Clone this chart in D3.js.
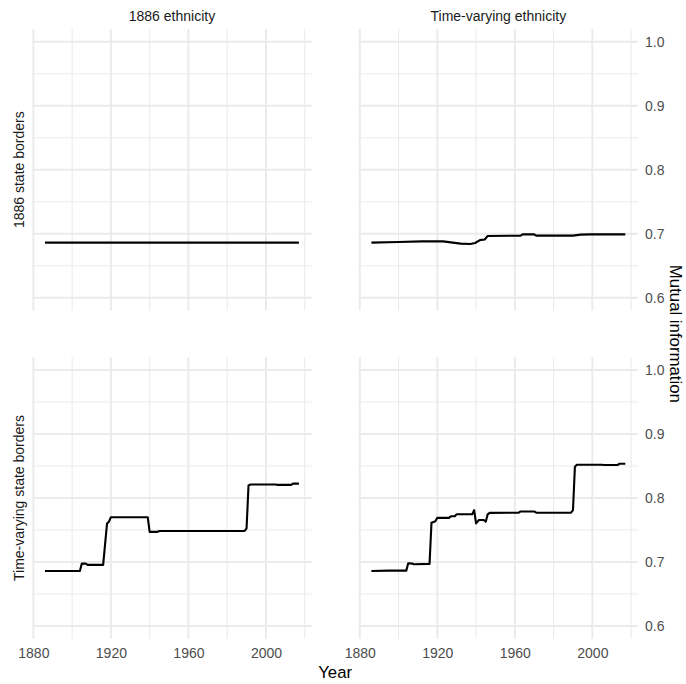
<!DOCTYPE html>
<html>
<head>
<meta charset="utf-8">
<script src="https://cdn.jsdelivr.net/npm/d3@7"></script>
<style>
  body { margin: 0; background: #fff; }
  svg { display: block; font-family: "Liberation Sans", Arial, Helvetica, sans-serif; }
</style>
</head>
<body>
<svg id="chart" width="686" height="684"></svg>
<script>
// ---- data ----
const colLabels = ["1886 ethnicity", "Time-varying ethnicity"];
const rowLabels = ["1886 state borders", "Time-varying state borders"];
const xTicks = [1880, 1920, 1960, 2000];
const xMinor = [1900, 1940, 1980, 2020];
const yTicks = [0.6, 0.7, 0.8, 0.9, 1.0];
const yMinor = [0.65, 0.75, 0.85, 0.95];
const xTitle = "Year";
const yTitle = "Mutual information";

// panel: 1886 borders x 1886 ethnicity
const yearsTL = [1886, 2017];
const valuesTL = [0.686, 0.686];

// panel: 1886 borders x time-varying ethnicity
const yearsTR = [1886, 1900, 1912, 1923, 1927, 1932, 1937, 1939.5, 1942, 1944.5, 1946, 1963, 1964, 1970, 1971, 1990, 1994, 1999, 2017];
const valuesTR = [0.686, 0.687, 0.688, 0.688, 0.6865, 0.6845, 0.684, 0.6855, 0.690, 0.691, 0.6965, 0.697, 0.699, 0.699, 0.697, 0.697, 0.6985, 0.699, 0.699];

// panel: time-varying borders x 1886 ethnicity
const yearsBL = [1886, 1904, 1905, 1907, 1908, 1916, 1918, 1919, 1920, 1939, 1940, 1944, 1945, 1989, 1990, 1991, 1992, 2005, 2006, 2013, 2014, 2017];
const valuesBL = [0.686, 0.686, 0.6975, 0.6975, 0.6955, 0.6955, 0.760, 0.763, 0.770, 0.770, 0.747, 0.747, 0.7485, 0.7485, 0.7525, 0.8195, 0.821, 0.821, 0.8205, 0.8205, 0.8225, 0.8225];

// panel: time-varying borders x time-varying ethnicity
const yearsBR = [1886, 1895, 1904, 1905, 1907, 1908, 1916, 1917, 1919, 1920, 1926, 1927, 1929, 1930, 1938, 1939, 1940, 1941.5, 1944, 1945, 1946, 1947, 1962, 1963, 1970, 1971, 1989, 1990, 1991, 1992, 2005, 2006, 2013, 2014, 2017];
const valuesBR = [0.686, 0.6865, 0.6865, 0.698, 0.6975, 0.6965, 0.697, 0.7615, 0.7635, 0.769, 0.769, 0.7714, 0.7715, 0.7745, 0.7745, 0.781, 0.7604, 0.7656, 0.7656, 0.763, 0.7745, 0.7768, 0.777, 0.779, 0.779, 0.777, 0.777, 0.781, 0.849, 0.852, 0.852, 0.8515, 0.8515, 0.8536, 0.8536];

const panels = [
  {row: 0, col: 0, years: yearsTL, values: valuesTL},
  {row: 0, col: 1, years: yearsTR, values: valuesTR},
  {row: 1, col: 0, years: yearsBL, values: valuesBL},
  {row: 1, col: 1, years: yearsBR, values: valuesBR}
];

// ---- layout ----
const colX = [32.3, 358.7];
const panelW = 279.3;
const rowY = [28.9, 357.2];
const panelH = 281.6;

const svg = d3.select("#chart");

const xDomain = [1886 - 0.05 * 131, 2017 + 0.05 * 131];
const yDomain = [0.58, 1.02];

const x = d3.scaleLinear().domain(xDomain).range([0, panelW]);
const y = d3.scaleLinear().domain(yDomain).range([panelH, 0]);

const gridColor = "#ebebeb";

panels.forEach(p => {
  const g = svg.append("g").attr("transform", `translate(${colX[p.col]},${rowY[p.row]})`);
  // minor grid
  g.selectAll(".xminor").data(xMinor).join("line")
    .attr("x1", d => x(d)).attr("x2", d => x(d)).attr("y1", 0).attr("y2", panelH)
    .attr("stroke", gridColor).attr("stroke-width", 1.1);
  g.selectAll(".yminor").data(yMinor).join("line")
    .attr("y1", d => y(d)).attr("y2", d => y(d)).attr("x1", 0).attr("x2", panelW)
    .attr("stroke", gridColor).attr("stroke-width", 1.1);
  // major grid
  g.selectAll(".xmajor").data(xTicks).join("line")
    .attr("x1", d => x(d)).attr("x2", d => x(d)).attr("y1", 0).attr("y2", panelH)
    .attr("stroke", gridColor).attr("stroke-width", 2);
  g.selectAll(".ymajor").data(yTicks).join("line")
    .attr("y1", d => y(d)).attr("y2", d => y(d)).attr("x1", 0).attr("x2", panelW)
    .attr("stroke", gridColor).attr("stroke-width", 2);

  const pts = p.years.map((yr, i) => [yr, p.values[i]]);
  const line = d3.line().x(d => x(d[0])).y(d => y(d[1]));
  g.append("path").datum(pts).attr("d", line)
    .attr("fill", "none").attr("stroke", "#000").attr("stroke-width", 2.1)
    .attr("stroke-linejoin", "round");

  // x axis labels on bottom row
  if (p.row === 1) {
    const ax = d3.axisBottom(x).tickValues(xTicks).tickFormat(d3.format("d")).tickSize(0).tickPadding(0);
    const axg = g.append("g").attr("transform", `translate(0,${panelH})`).call(ax);
    axg.select(".domain").remove();
    axg.selectAll("text").attr("y", 0).attr("dy", null).attr("transform", "translate(0,19)")
      .attr("fill", "#4d4d4d").style("font-size", "14px").style("font-family", "Liberation Sans, Arial, sans-serif");
  }
  // y axis labels on right column
  if (p.col === 1) {
    const ay = d3.axisRight(y).tickValues(yTicks).tickFormat(d3.format(".1f")).tickSize(0).tickPadding(7);
    const ayg = g.append("g").attr("transform", `translate(${panelW},0)`).call(ay);
    ayg.select(".domain").remove();
    ayg.selectAll("text").attr("fill", "#4d4d4d").style("font-size", "14px").style("font-family", "Liberation Sans, Arial, sans-serif");
  }
});

// column strip labels
colLabels.forEach((lab, i) => {
  svg.append("text").attr("x", colX[i] + panelW / 2).attr("y", 15.7).attr("dy", "0.35em")
    .attr("text-anchor", "middle").attr("fill", "#1a1a1a").style("font-size", "14px").text(lab);
});
// row strip labels (left, rotated)
rowLabels.forEach((lab, i) => {
  const cy = rowY[i] + panelH / 2;
  svg.append("text").attr("transform", `translate(19.5,${cy}) rotate(-90)`).attr("dy", "0.35em")
    .attr("text-anchor", "middle").attr("fill", "#1a1a1a").style("font-size", "14px").text(lab);
});

// axis titles
svg.append("text").attr("x", (colX[0] + colX[1] + panelW) / 2).attr("y", 678)
  .attr("text-anchor", "middle").attr("fill", "#000").style("font-size", "16.8px").text(xTitle);
svg.append("text").attr("transform", `translate(676,${(rowY[0] + rowY[1] + panelH) / 2}) rotate(90)`).attr("dy", "0.35em")
  .attr("text-anchor", "middle").attr("fill", "#000").style("font-size", "16.8px").text(yTitle);
</script>
</body>
</html>
